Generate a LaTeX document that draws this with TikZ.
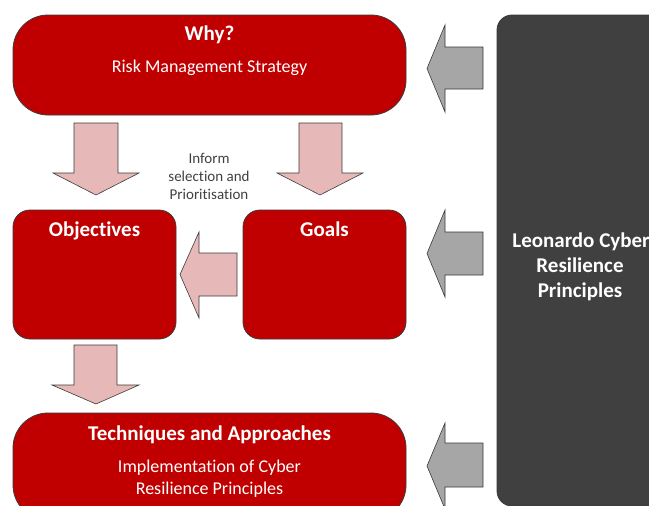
\documentclass[tikz,border=0pt]{standalone}
\usepackage{fontspec}
\setmainfont{Carlito}[Ligatures=NoCommon]
\definecolor{boxred}{HTML}{C00000}
\definecolor{pinkfill}{HTML}{E6B9B8}
\definecolor{greyfill}{HTML}{A6A6A6}
\definecolor{darkpanel}{HTML}{404040}
\definecolor{edge}{HTML}{3A3A3A}
\begin{document}
\begin{tikzpicture}[x=1pt,y=-1pt,
  redbox/.style={rectangle, fill=boxred, draw=edge, line width=0.8pt, inner sep=0pt},
  panel/.style={rectangle, fill=darkpanel, draw=edge, line width=0.8pt, rounded corners=15pt, inner sep=0pt},
  boxtitle/.style={anchor=base, text=white, font=\fontsize{21}{25}\selectfont\bfseries, inner sep=0pt},
  boxtext/.style={anchor=base, text=white, font=\fontsize{18}{22}\selectfont, inner sep=0pt},
  note/.style={anchor=base, text=darkpanel, font=\fontsize{15}{18}\selectfont, inner sep=0pt},
  pinkarrow/.style={fill=pinkfill, draw=edge, line width=0.6pt, line join=miter},
  greyarrow/.style={fill=greyfill, draw=edge, line width=0.6pt, line join=miter}]
\useasboundingbox (0,0) rectangle (649,506);
\clip (0,0) rectangle (649,506);

% main boxes
\node[redbox, rounded corners=35pt, minimum width=393pt, minimum height=100pt] (why) at (209.5,65) {};
\node[redbox, rounded corners=17pt, minimum width=163pt, minimum height=129pt] (obj) at (94.5,274.5) {};
\node[redbox, rounded corners=17pt, minimum width=163pt, minimum height=129pt] (goals) at (324.5,274.5) {};
\node[redbox, rounded corners=35pt, minimum width=393pt, minimum height=107pt] (tech) at (209.5,466.5) {};
\node[panel, minimum width=168pt, minimum height=491pt] (lcr) at (581,260.5) {};

% box texts
\node[boxtitle] (whyT) at (209.5,41) {Why?};
\node[boxtext] (whyS) at (209.5,72) {Risk Management Strategy};
\node[boxtitle] (objT) at (94.5,236) {Objectives};
\node[boxtitle] (goalsT) at (324.5,236) {Goals};
\node[boxtitle] (techT) at (209.5,440) {Techniques and Approaches};
\node[boxtext] (techS1) at (209.5,472) {Implementation of Cyber};
\node[boxtext] (techS2) at (209.5,494) {Resilience Principles};
\node[boxtitle] (lcr1) at (581,247) {Leonardo Cyber};
\node[boxtitle] (lcr2) at (580,272) {Resilience};
\node[boxtitle] (lcr3) at (580,297) {Principles};

% note between the downward arrows
\node[note] (inf1) at (209,163) {Inform};
\node[note] (inf2) at (209,181) {selection and};
\node[note] (inf3) at (209,199) {Prioritisation};

% pink block arrows
\draw[pinkarrow] (74,123) -- (118,123) -- (118,173) -- (139,173) -- (96,195) -- (53,173) -- (74,173) -- cycle;
\draw[pinkarrow] (299,123) -- (342,123) -- (342,173) -- (363,173) -- (320,195) -- (277,173) -- (299,173) -- cycle;
\draw[pinkarrow] (74,345) -- (117,345) -- (117,385) -- (139,385) -- (96,404) -- (52,385) -- (74,385) -- cycle;
\draw[pinkarrow] (237,253) -- (199,253) -- (199,232) -- (180,274.5) -- (199,318) -- (199,296) -- (237,296) -- cycle;

% grey block arrows from the principles panel
\draw[greyarrow] (483,47) -- (445,47) -- (445,25) -- (427,68.5) -- (445,112) -- (445,89) -- (483,89) -- cycle;
\draw[greyarrow] (483,232) -- (445,232) -- (445,210) -- (427,253.5) -- (445,297) -- (445,275) -- (483,275) -- cycle;
\draw[greyarrow] (483,443) -- (445,443) -- (445,423) -- (427,466) -- (445,509) -- (445,487) -- (483,487) -- cycle;
\end{tikzpicture}
\end{document}
